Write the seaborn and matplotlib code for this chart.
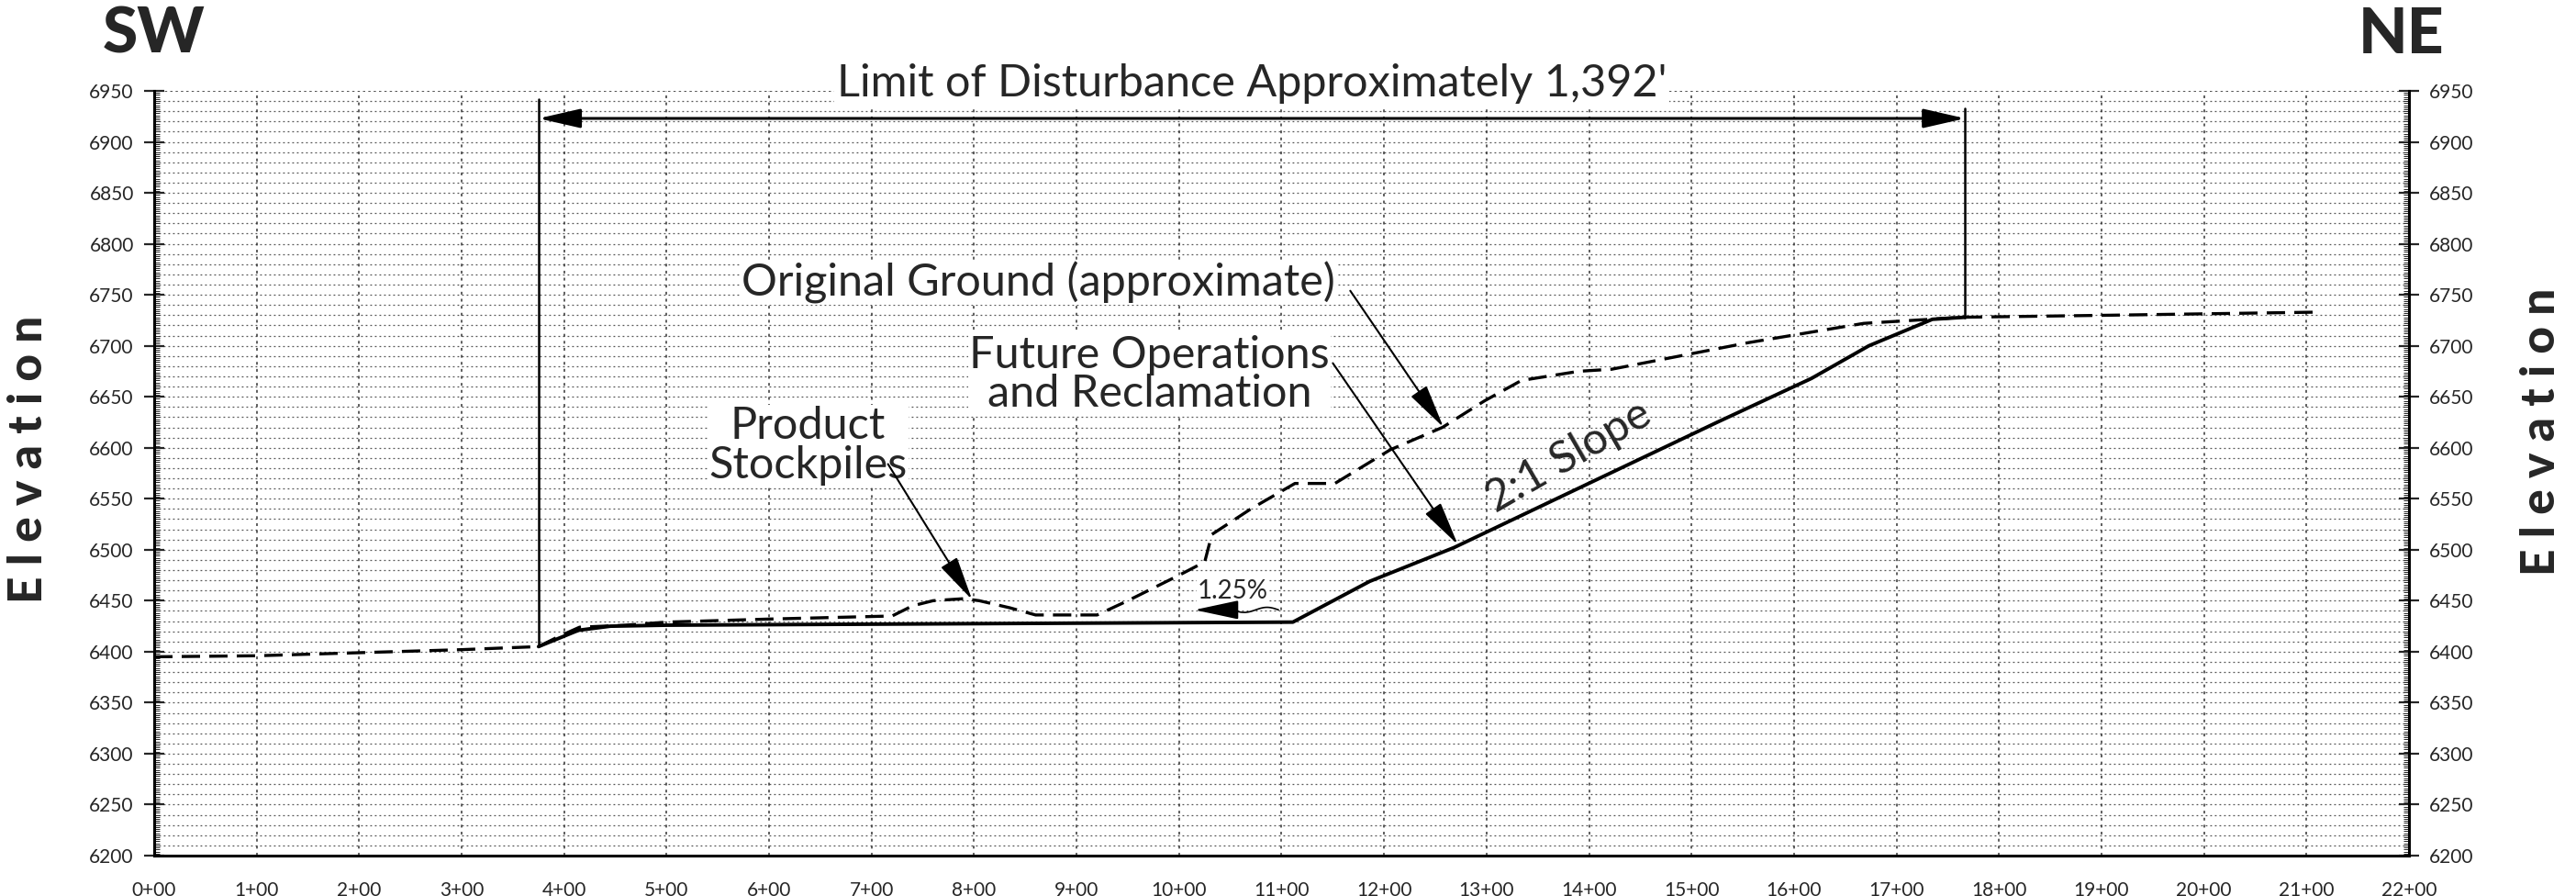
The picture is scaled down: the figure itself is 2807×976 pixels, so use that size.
import numpy as np
import pandas as pd
import matplotlib
matplotlib.use("Agg")
import matplotlib.pyplot as plt
from matplotlib.ticker import MultipleLocator, FuncFormatter
import seaborn as sns

ground_sta = [0, 100, 200, 300, 375, 395, 415, 460, 500, 600, 720, 740, 760, 790, 805,
              835, 860, 920, 950, 1000, 1025, 1032, 1070, 1113, 1152, 1206, 1257, 1298,
              1334, 1390, 1422, 1555, 1668, 1765, 1909, 2110]
ground_elev = [6395, 6396, 6399, 6402, 6405, 6415, 6424, 6426, 6429, 6432, 6435, 6445, 6450,
               6452, 6450, 6443, 6436, 6436, 6450, 6475, 6488, 6515, 6540, 6565, 6565, 6598,
               6620, 6646, 6666, 6675, 6677, 6703, 6722, 6728, 6730, 6733]

future_sta = [375, 414, 445, 500, 1111, 1186, 1268, 1525, 1617, 1673, 1735, 1767]
future_elev = [6405, 6421, 6425, 6426, 6429, 6469, 6502, 6625, 6668, 6700, 6726, 6728]

limit_left, limit_right = 375, 1767
limit_text = "Limit of Disturbance Approximately 1,392'"

x_min, x_max = 0, 2200
y_min, y_max = 6200, 6950

ground = pd.DataFrame({"station": ground_sta, "elevation": ground_elev})
future = pd.DataFrame({"station": future_sta, "elevation": future_elev})

sns.set_style("white")
plt.rcParams["font.family"] = ["Lato", "DejaVu Sans"]

fig = plt.figure(figsize=(28.07, 9.76), dpi=100)
ax = fig.add_axes([0.05985, 0.04508, 0.87531, 0.85348])

# grid: 100 ft stations, 10 ft elevations
for yv in np.arange(y_min + 10, y_max, 10):
    ax.axhline(yv, color="#555555", lw=0.9, ls=(0, (1.5, 2.5)), zorder=0)
for xv in np.arange(x_min + 100, x_max, 100):
    ax.axvline(xv, color="#333333", lw=1.1, ls=(0, (2, 3)), zorder=0)
ax.axhline(y_max, color="#333333", lw=1.2, ls=(0, (1.5, 2)), zorder=0)

sns.lineplot(data=ground, x="station", y="elevation", ax=ax, color="black", lw=2.4,
             dashes=False, zorder=3).lines[-1].set_dashes((6, 3))
sns.lineplot(data=future, x="station", y="elevation", ax=ax, color="black", lw=2.8, zorder=4)

ax.set_xlim(x_min, x_max)
ax.set_ylim(y_min, y_max)
ax.set_xlabel("")
ax.set_ylabel("")

ax.spines["top"].set_visible(False)
for s in ["left", "right", "bottom"]:
    ax.spines[s].set_linewidth(2.2)
    ax.spines[s].set_color("black")

ax.xaxis.set_major_locator(MultipleLocator(100))
ax.xaxis.set_minor_locator(MultipleLocator(20))
ax.yaxis.set_major_locator(MultipleLocator(50))
ax.yaxis.set_minor_locator(MultipleLocator(2))
ax.xaxis.set_major_formatter(FuncFormatter(lambda v, p: f"{int(v) // 100}+{int(v) % 100:02d}"))
ax.tick_params(axis="x", which="major", direction="inout", length=16, width=1.4,
               labelsize=15, pad=12)
ax.tick_params(axis="x", which="minor", direction="in", length=5, width=1.0)
ax.tick_params(axis="y", which="major", direction="inout", length=16, width=1.6,
               labelsize=15, pad=8, left=True, right=True, labelleft=True, labelright=True)
ax.tick_params(axis="y", which="minor", direction="in", length=4, width=0.7,
               left=True, right=True)

# limit of disturbance
g_left = np.interp(limit_left, ground_sta, ground_elev)
g_right = np.interp(limit_right, ground_sta, ground_elev)
ax.plot([limit_left, limit_left], [g_left, 6942], color="black", lw=1.8, zorder=5)
ax.plot([limit_right, limit_right], [g_right, 6933], color="black", lw=1.8, zorder=5)
ax.annotate("", xy=(limit_left, 6923), xytext=(limit_right, 6923),
            arrowprops=dict(arrowstyle="<|-|>,head_length=1.4,head_width=0.32",
                            color="black", lw=2.2, mutation_scale=20, shrinkA=0, shrinkB=0),
            zorder=6)
ax.text((limit_left + limit_right) / 2, 6957, limit_text, ha="center", va="center",
        fontsize=35, clip_on=False, zorder=7,
        bbox=dict(facecolor="white", edgecolor="none", pad=2))

arrow_kw = dict(arrowstyle="-|>,head_length=1.5,head_width=0.32", color="black", lw=1.5,
                mutation_scale=20, shrinkA=0, shrinkB=0)

ax.text(863, 6762, "Original Ground (approximate)", ha="center", va="center", fontsize=35,
        zorder=7, bbox=dict(facecolor="white", edgecolor="none", pad=1))
ax.annotate("", xy=(1258, 6620), xytext=(1167, 6754), arrowprops=arrow_kw, zorder=7)

ax.text(971, 6672, "Future Operations\nand Reclamation", ha="center", va="center",
        fontsize=35, linespacing=0.95, zorder=7,
        bbox=dict(facecolor="white", edgecolor="none", pad=1))
ax.annotate("", xy=(1272, 6505), xytext=(1150, 6683), arrowprops=arrow_kw, zorder=7)

ax.text(638, 6602, "Product\nStockpiles", ha="center", va="center", fontsize=35,
        linespacing=0.95, zorder=7, bbox=dict(facecolor="white", edgecolor="none", pad=1))
ax.annotate("", xy=(798, 6451), xytext=(716, 6584), arrowprops=arrow_kw, zorder=7)

ax.text(1380, 6592, "2:1 Slope", ha="center", va="center", fontsize=35, rotation=30,
        rotation_mode="anchor", zorder=7)

# 1.25% grade with wavy leader
ax.text(1052, 6459, "1.25%", ha="center", va="center", fontsize=20, zorder=7,
        bbox=dict(facecolor="white", edgecolor="none", pad=0.5))
wx = np.linspace(1097, 1030, 60)
wy = 6441 + 2.5 * np.sin((1097 - wx) / 67 * 3 * np.pi)
ax.plot(wx, wy, color="black", lw=1.2, zorder=7)
ax.annotate("", xy=(1015, 6441), xytext=(1031, 6441), arrowprops=arrow_kw, zorder=7)

# headers
fig.text(112 / 2807, 1 - 38 / 976, "SW", fontsize=50, fontweight="black", ha="left",
         va="center")
fig.text(2570 / 2807, 1 - 38 / 976, "NE", fontsize=50, fontweight="black", ha="left",
         va="center")
fig.text(32 / 2807, 1 - 500 / 976, "E l e v a t i o n", fontsize=37, fontweight="black",
         rotation=90, ha="center", va="center")
fig.text(2770 / 2807, 1 - 470 / 976, "E l e v a t i o n", fontsize=37, fontweight="black",
         rotation=90, ha="center", va="center")

fig.savefig("out.png", dpi=100, facecolor="white")
